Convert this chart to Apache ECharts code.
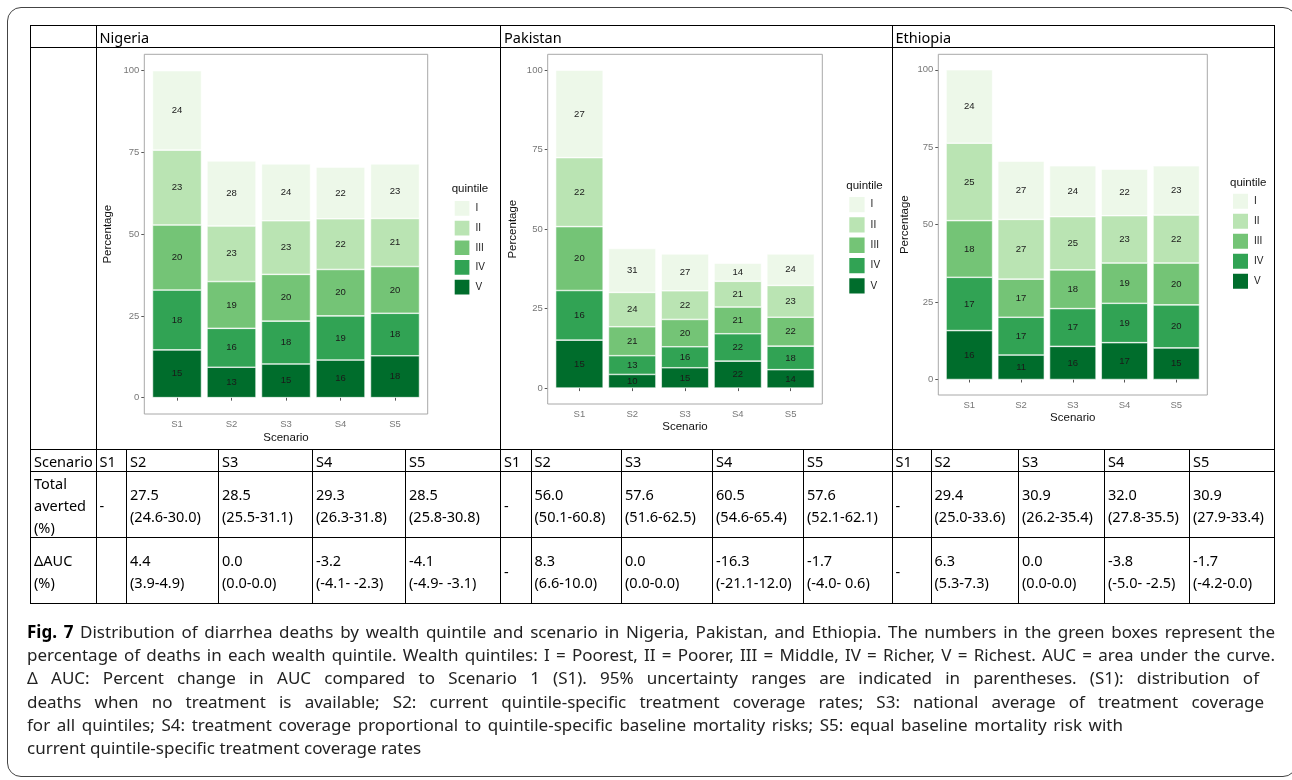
<!DOCTYPE html>
<html>
<head>
<meta charset="utf-8">
<script src="https://cdn.jsdelivr.net/npm/echarts@6/dist/echarts.min.js"></script>
<style>
body{margin:0;background:#fff;width:1292px;height:780px;overflow:hidden;position:relative;font-family:'Noto Sans',sans-serif;color:#000;}
#frame{position:absolute;left:7px;top:7px;width:1290px;height:770px;border:1.5px solid #444;border-radius:14px;box-sizing:border-box;}
#chart{position:absolute;left:0;top:0;width:1292px;height:780px;}
#tbl{position:absolute;left:0;top:0;width:1292px;height:610px;pointer-events:none;}
.cell{position:absolute;box-sizing:border-box;border:1px solid #000;padding-left:3px;font-size:14.5px;line-height:22px;white-space:pre-line;display:flex;align-items:center;}
.cap{position:absolute;left:27px;height:23px;line-height:23px;font-size:17px;white-space:nowrap;color:#222;}
.cap b{color:#000;}
</style>
</head>
<body>
<div id="frame"></div>
<div id="chart"></div>
<div id="tbl"></div>
<div id="caption"></div>
<script>
var scenarios = ['S1','S2','S3','S4','S5'];
var quintiles = ['I','II','III','IV','V'];
var countries = ['Nigeria','Pakistan','Ethiopia'];
var colors = ['#edf8e9','#bae4b3','#74c476','#31a354','#006d2c'];

// bar segment heights (% of S1 deaths), rows = quintile I..V, cols = S1..S5
var nigeriaHeight = [
	[24.3, 19.9, 17.4, 15.8, 16.7],
	[22.9, 17.0, 16.4, 15.5, 14.7],
	[19.9, 14.3, 14.3, 14.2, 14.3],
	[18.3, 11.9, 13.1, 13.5, 13.0],
	[14.6,  9.3, 10.3, 11.5, 12.8]
];
var pakistanHeight = [
	[27.5, 13.8, 11.6,  5.7,  9.9],
	[21.7, 10.8,  9.0,  8.1, 10.0],
	[20.1,  9.1,  8.6,  8.4,  9.1],
	[15.6,  5.9,  6.6,  8.6,  7.4],
	[15.1,  4.3,  6.4,  8.5,  5.8]
];
var ethiopiaHeight = [
	[23.7, 18.8, 16.4, 15.0, 15.9],
	[25.0, 19.3, 17.2, 15.3, 15.5],
	[18.3, 12.3, 12.5, 13.0, 13.5],
	[17.2, 12.2, 12.2, 12.7, 13.9],
	[15.8,  7.9, 10.7, 11.9, 10.2]
];
// numbers printed in the boxes (% of deaths in each quintile)
var nigeriaLabel = [
	[24, 28, 24, 22, 23],
	[23, 23, 23, 22, 21],
	[20, 19, 20, 20, 20],
	[18, 16, 18, 19, 18],
	[15, 13, 15, 16, 18]
];
var pakistanLabel = [
	[27, 31, 27, 14, 24],
	[22, 24, 22, 21, 23],
	[20, 21, 20, 21, 22],
	[16, 13, 16, 22, 18],
	[15, 10, 15, 22, 14]
];
var ethiopiaLabel = [
	[24, 27, 24, 22, 23],
	[25, 27, 25, 23, 22],
	[18, 17, 18, 19, 20],
	[17, 17, 17, 19, 20],
	[16, 11, 16, 17, 15]
];
var yTicks = [0, 25, 50, 75, 100];

// table rows
var nigeriaAverted = ['-', '27.5\n(24.6-30.0)', '28.5\n(25.5-31.1)', '29.3\n(26.3-31.8)', '28.5\n(25.8-30.8)'];
var pakistanAverted = ['-', '56.0\n(50.1-60.8)', '57.6\n(51.6-62.5)', '60.5\n(54.6-65.4)', '57.6\n(52.1-62.1)'];
var ethiopiaAverted = ['-', '29.4\n(25.0-33.6)', '30.9\n(26.2-35.4)', '32.0\n(27.8-35.5)', '30.9\n(27.9-33.4)'];
var nigeriaAuc = ['', '4.4\n(3.9-4.9)', '0.0\n(0.0-0.0)', '-3.2\n(-4.1- -2.3)', '-4.1\n(-4.9- -3.1)'];
var pakistanAuc = ['-', '8.3\n(6.6-10.0)', '0.0\n(0.0-0.0)', '-16.3\n(-21.1-12.0)', '-1.7\n(-4.0- 0.6)'];
var ethiopiaAuc = ['-', '6.3\n(5.3-7.3)', '0.0\n(0.0-0.0)', '-3.8\n(-5.0- -2.5)', '-1.7\n(-4.2-0.0)'];

var captionLines = [
	'<b>Fig. 7</b> Distribution of diarrhea deaths by wealth quintile and scenario in Nigeria, Pakistan, and Ethiopia. The numbers in the green boxes represent the',
	'percentage of deaths in each wealth quintile. Wealth quintiles: I = Poorest, II = Poorer, III = Middle, IV = Richer, V = Richest. AUC = area under the curve.',
	'\u0394 AUC: Percent change in AUC compared to Scenario 1 (S1). 95% uncertainty ranges are indicated in parentheses. (S1): distribution of',
	'deaths when no treatment is available; S2: current quintile-specific treatment coverage rates; S3: national average of treatment coverage',
	'for all quintiles; S4: treatment coverage proportional to quintile-specific baseline mortality risks; S5: equal baseline mortality risk with',
	'current quintile-specific treatment coverage rates'
];

// layout of the three ggplot panels (pixels)
var panels = [
	{l:144.3, r:427.7, t:54.3, b:414, legX:447.7, legY:194, key:16.7, titleY:178, yGap:30, xGap:18},
	{l:547.7, r:822.3, t:54.3, b:404, legX:842.3, legY:190, key:17.3, titleY:175, yGap:29, xGap:17},
	{l:938.3, r:1207.3, t:54.3, b:395, legX:1226, legY:186.7, key:17, titleY:171.5, yGap:27, xGap:16.5}
];
var heights = [nigeriaHeight, pakistanHeight, ethiopiaHeight];
var labels = [nigeriaLabel, pakistanLabel, ethiopiaLabel];

initChart();
buildTable();
buildCaption();

function initChart(){
	var grid = [], xAxis = [], yAxis = [], series = [], legend = [], title = [], graphic = [];
	var font = 'Liberation Sans';
	panels.forEach(function(p, ci){
		var pad = (p.r - p.l) / 5.2 * 0.1;
		grid.push({left: p.l + pad, top: p.t, width: p.r - p.l - 2 * pad, height: p.b - p.t});
		xAxis.push({
			type: 'category', gridIndex: ci, data: scenarios,
			name: 'Scenario', nameLocation: 'middle', nameGap: p.xGap,
			nameTextStyle: {fontFamily: font, fontSize: 11.5, color: '#111'},
			axisLine: {show: false},
			axisTick: {show: true, alignWithLabel: true, length: 3, lineStyle: {color: '#555'}},
			axisLabel: {margin: 5, fontFamily: font, fontSize: 9.5, color: '#777'}
		});
		yAxis.push({
			type: 'value', gridIndex: ci, min: -5, max: 105, offset: pad,
			name: 'Percentage', nameLocation: 'middle', nameGap: p.yGap,
			nameTextStyle: {fontFamily: font, fontSize: 11.5, color: '#111'},
			axisLine: {show: false}, splitLine: {show: false},
			axisTick: {show: true, length: 3, customValues: yTicks, lineStyle: {color: '#555'}},
			axisLabel: {margin: 5, customValues: yTicks, fontFamily: font, fontSize: 9.5, color: '#777'}
		});
		for(var qi = 4; qi >= 0; qi--){
			(function(qi){
				series.push({
					type: 'bar', name: quintiles[qi], xAxisIndex: ci, yAxisIndex: ci, stack: 'c' + ci,
					barWidth: '90%', data: heights[ci][qi],
					itemStyle: {color: colors[qi], borderColor: '#fff', borderWidth: 0.6},
					label: {show: true, position: 'inside', fontFamily: font, fontSize: 9.5, color: '#1a1a1a',
						formatter: function(o){ return labels[ci][qi][o.dataIndex]; }},
					emphasis: {disabled: true}
				});
			})(qi);
		}
		legend.push({
			orient: 'vertical', left: p.legX, top: p.legY, data: quintiles, icon: 'rect',
			itemWidth: p.key, itemHeight: p.key, itemGap: 1, selectedMode: false,
			textStyle: {fontFamily: font, fontSize: 10, color: '#222'}
		});
		title.push({text: 'quintile', left: p.legX - 1, top: p.titleY,
			textStyle: {fontFamily: font, fontSize: 11.5, fontWeight: 'normal', color: '#111'}});
		graphic.push({type: 'rect', silent: true, z: 10,
			shape: {x: p.l, y: p.t, width: p.r - p.l, height: p.b - p.t},
			style: {fill: 'none', stroke: '#a8a8a8', lineWidth: 1}});
	});
	var chart = echarts.init(document.getElementById('chart'));
	chart.setOption({
		animation: false,
		grid: grid, xAxis: xAxis, yAxis: yAxis, series: series,
		legend: legend, title: title, graphic: graphic
	});
}

function addCell(box, x0, y0, x1, y1, text){
	var d = document.createElement('div');
	d.className = 'cell';
	d.style.left = x0 + 'px';
	d.style.top = y0 + 'px';
	d.style.width = (x1 - x0 + 1) + 'px';
	d.style.height = (y1 - y0 + 1) + 'px';
	d.textContent = text;
	box.appendChild(d);
	return d;
}

function buildTable(){
	var box = document.getElementById('tbl');
	var colX = [30, 95.5, 126, 218, 312, 405, 500, 530.5, 621, 712, 803, 891.5, 930.5, 1018, 1104, 1189, 1274];
	var rowY = [25, 47, 449, 471, 537, 603];
	var blocks = [1, 6, 11, 16];
	// header and chart rows
	addCell(box, colX[0], rowY[0], colX[1], rowY[1], '');
	addCell(box, colX[0], rowY[1], colX[1], rowY[2], '');
	countries.forEach(function(c, i){
		addCell(box, colX[blocks[i]], rowY[0], colX[blocks[i + 1]], rowY[1], c);
		addCell(box, colX[blocks[i]], rowY[1], colX[blocks[i + 1]], rowY[2], '');
	});
	var averted = [nigeriaAverted, pakistanAverted, ethiopiaAverted];
	var auc = [nigeriaAuc, pakistanAuc, ethiopiaAuc];
	addCell(box, colX[0], rowY[2], colX[1], rowY[3], 'Scenario');
	addCell(box, colX[0], rowY[3], colX[1], rowY[4], 'Total\naverted\n(%)');
	addCell(box, colX[0], rowY[4], colX[1], rowY[5], '\u0394AUC\n(%)');
	for(var i = 0; i < 3; i++){
		for(var j = 0; j < 5; j++){
			var k = blocks[i] + j;
			addCell(box, colX[k], rowY[2], colX[k + 1], rowY[3], scenarios[j]);
			addCell(box, colX[k], rowY[3], colX[k + 1], rowY[4], averted[i][j]);
			addCell(box, colX[k], rowY[4], colX[k + 1], rowY[5], auc[i][j]);
		}
	}
}

function buildCaption(){
	var box = document.getElementById('caption');
	var rightEdge = [1275, 1275, 1259, 1264, 1123, 0];
	captionLines.forEach(function(t, i){
		var d = document.createElement('div');
		d.className = 'cap';
		d.style.top = (620 + i * 23.2) + 'px';
		d.innerHTML = t;
		box.appendChild(d);
		if(rightEdge[i]){
			var natural = d.getBoundingClientRect().width;
			var spaces = d.textContent.split(' ').length - 1;
			var target = rightEdge[i] - 27;
			d.style.wordSpacing = ((target - natural) / spaces) + 'px';
		}
	});
}
</script>
</body>
</html>
